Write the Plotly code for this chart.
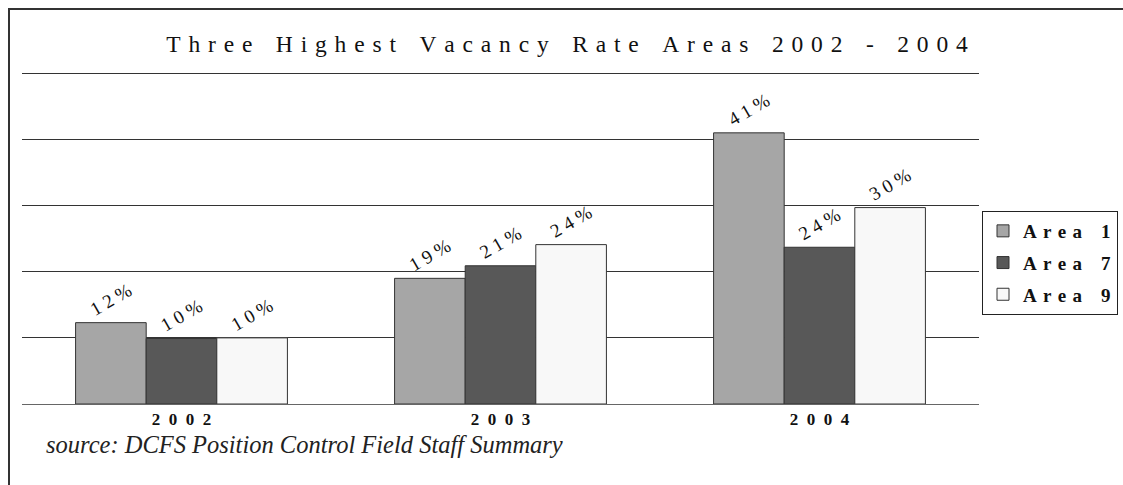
import plotly.graph_objects as go

# ---- data ----
years = ["2002", "2003", "2004"]
area1 = [12.3, 19.0, 41.0]
area7 = [9.9, 20.9, 23.7]
area9 = [10.0, 24.1, 29.7]
series_names = ["Area 1", "Area 7", "Area 9"]
title_text = "Three Highest Vacancy Rate Areas 2002 - 2004"
source_text = "source: DCFS Position Control Field Staff Summary"

FONT = "Liberation Serif"
NB = "\u00a0"       # no-break space
S3 = "\u2004"       # three-per-em space
EN = "\u2002"       # en space
EM = "\u2003"       # em space


def spaced(s, gap=NB, wordgap=EM):
    words = s.split(" ")
    return wordgap.join(gap.join(list(w)) for w in words)


fills = ["#a6a6a6", "#585858", "#f8f8f8"]
values = [area1, area7, area9]

fig = go.Figure()
for i, (name, vals, col) in enumerate(zip(series_names, values, fills)):
    fig.add_trace(go.Bar(
        x=years, y=vals, name=spaced(name, S3, EM), legendgroup=f"g{i}",
        marker=dict(color=col, line=dict(color="#333333", width=1)),
        text=[spaced(f"{v:.0f}%", NB) for v in vals],
        textposition="outside", textangle=-30, constraintext="none",
        cliponaxis=False,
        outsidetextfont=dict(family=FONT, size=19, color="#111111"),
    ))

W, H = 1123, 485
L, R, T, B = 22, W - 979, 72, H - 404
pw, ph = W - L - R, H - T - B

fig.update_layout(
    width=W, height=H,
    margin=dict(l=L, r=R, t=T, b=B, autoexpand=False),
    paper_bgcolor="white", plot_bgcolor="white",
    barmode="group", bargap=0.336, bargroupgap=0,
    font=dict(family=FONT, color="#111111"),
    title=dict(text=spaced(title_text, S3, EM), x=567 / W, xanchor="center",
               y=1 - 44 / H, yanchor="middle",
               font=dict(family=FONT, size=23.5, color="#111111")),
    legend=dict(x=(982 - L) / pw, xanchor="left", y=(H - B - 211) / ph, yanchor="top",
                bordercolor="#222222", borderwidth=1, bgcolor="white",
                font=dict(family=FONT, size=19, color="#111111", weight="bold"),
                traceorder="grouped", tracegroupgap=4,
                entrywidth=110, entrywidthmode="pixels"),
    showlegend=True,
)

fig.update_xaxes(
    type="category", tickvals=years, ticktext=[spaced(y, EN) for y in years],
    tickfont=dict(family=FONT, size=17, color="#111111", weight="bold"),
    showline=True, linecolor="#666666", linewidth=1, ticks="", showgrid=False,
)
fig.update_yaxes(
    range=[0, 50.2], dtick=10, showticklabels=False, ticks="",
    showgrid=True, gridcolor="#333333", gridwidth=1,
    zeroline=True, zerolinecolor="#666666", zerolinewidth=1,
    showline=False,
)

# source note
fig.add_annotation(text=source_text, xref="paper", yref="paper",
                   x=(44 - L) / pw, y=-(444 - (H - B)) / ph,
                   xanchor="left", yanchor="middle", showarrow=False,
                   font=dict(family=FONT, size=24.5, style="italic", color="#222222"))

# outer frame (right/bottom edges fall outside the view)
fig.add_shape(type="rect", xref="paper", yref="paper",
              x0=(9 - L) / pw, x1=(W + 20 - L) / pw,
              y0=-(20 + B) / ph, y1=((H - B) - 9) / ph,
              line=dict(color="#333333", width=2), fillcolor="rgba(0,0,0,0)", layer="below")

fig.write_html(
    "out.html",
    config={"displayModeBar": False},
    post_script="document.body.style.margin='0';document.body.style.overflow='hidden';",
)
